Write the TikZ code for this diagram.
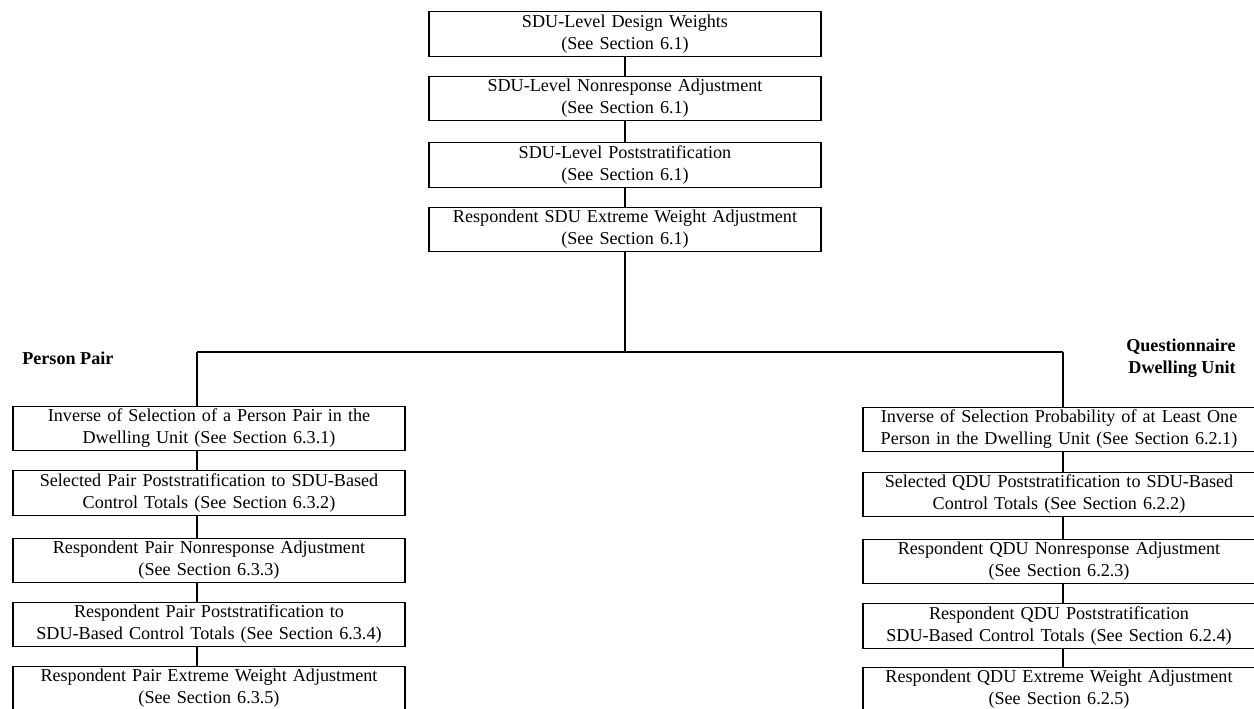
\documentclass[tikz,border=0pt]{standalone}
\usepackage{fontspec}
\setmainfont{Liberation Serif}
\usepackage{tikz}
\usetikzlibrary{positioning}

\tikzset{
  stepbox/.style={draw,line width=0.8pt,minimum width=294pt,minimum height=33.5pt,
                  text width=290pt,align=center,inner sep=0pt},
  link/.style={line width=1.5pt},
  branchlabel/.style={font=\fontsize{13.6}{16.5}\selectfont\bfseries,inner sep=0pt}
}

\begin{document}
\begin{tikzpicture}[x=0.75pt,y=-0.75pt,font=\fontsize{13.6}{16.5}\selectfont]
  \useasboundingbox (0,0) rectangle (1254,708);

  % SDU chain
  \node[stepbox] (s1) at (625,34)   {SDU-Level Design Weights\\(See Section 6.1)};
  \node[stepbox] (s2) at (625,98.5) {SDU-Level Nonresponse Adjustment\\(See Section 6.1)};
  \node[stepbox] (s3) at (625,165)  {SDU-Level Poststratification\\(See Section 6.1)};
  \node[stepbox] (s4) at (625,229.5){Respondent SDU Extreme Weight Adjustment\\(See Section 6.1)};

  \draw[link] (s1) -- (s2);
  \draw[link] (s2) -- (s3);
  \draw[link] (s3) -- (s4);

  % branch
  \coordinate (fork)   at (625,352);
  \coordinate (lspine) at (197,352);
  \coordinate (rspine) at (1063,352);
  \draw[link] (s4) -- (fork);
  \draw[link] (lspine) -- (rspine);

  \node[branchlabel,anchor=west] (pp) at (22,358) {Person Pair};
  \node[branchlabel,anchor=east,align=right] (qdu) at (1236,358) {Questionnaire\\Dwelling Unit};

  % person pair chain
  \node[stepbox] (p1) at (209,428.5) {Inverse of Selection of a Person Pair in the\\Dwelling Unit (See Section 6.3.1)};
  \node[stepbox] (p2) at (209,493)   {Selected Pair Poststratification to SDU-Based\\Control Totals (See Section 6.3.2)};
  \node[stepbox] (p3) at (209,560.5) {Respondent Pair Nonresponse Adjustment\\(See Section 6.3.3)};
  \node[stepbox] (p4) at (209,624.5) {Respondent Pair Poststratification to\\SDU-Based Control Totals (See Section 6.3.4)};
  \node[stepbox] (p5) at (209,688.5) {Respondent Pair Extreme Weight Adjustment\\(See Section 6.3.5)};

  \draw[link] (lspine) -- (p1.north -| lspine);
  \draw[link] (p1.south -| lspine) -- (p2.north -| lspine);
  \draw[link] (p2.south -| lspine) -- (p3.north -| lspine);
  \draw[link] (p3.south -| lspine) -- (p4.north -| lspine);
  \draw[link] (p4.south -| lspine) -- (p5.north -| lspine);

  % questionnaire dwelling unit chain
  \node[stepbox] (q1) at (1059,429.5) {Inverse of Selection Probability of at Least One\\Person in the Dwelling Unit (See Section 6.2.1)};
  \node[stepbox] (q2) at (1059,494.5) {Selected QDU Poststratification to SDU-Based\\Control Totals (See Section 6.2.2)};
  \node[stepbox] (q3) at (1059,561.5) {Respondent QDU Nonresponse Adjustment\\(See Section 6.2.3)};
  \node[stepbox] (q4) at (1059,626)   {Respondent QDU Poststratification\\SDU-Based Control Totals (See Section 6.2.4)};
  \node[stepbox] (q5) at (1059,689.5) {Respondent QDU Extreme Weight Adjustment\\(See Section 6.2.5)};

  \draw[link] (rspine) -- (q1.north -| rspine);
  \draw[link] (q1.south -| rspine) -- (q2.north -| rspine);
  \draw[link] (q2.south -| rspine) -- (q3.north -| rspine);
  \draw[link] (q3.south -| rspine) -- (q4.north -| rspine);
  \draw[link] (q4.south -| rspine) -- (q5.north -| rspine);
\end{tikzpicture}
\end{document}
